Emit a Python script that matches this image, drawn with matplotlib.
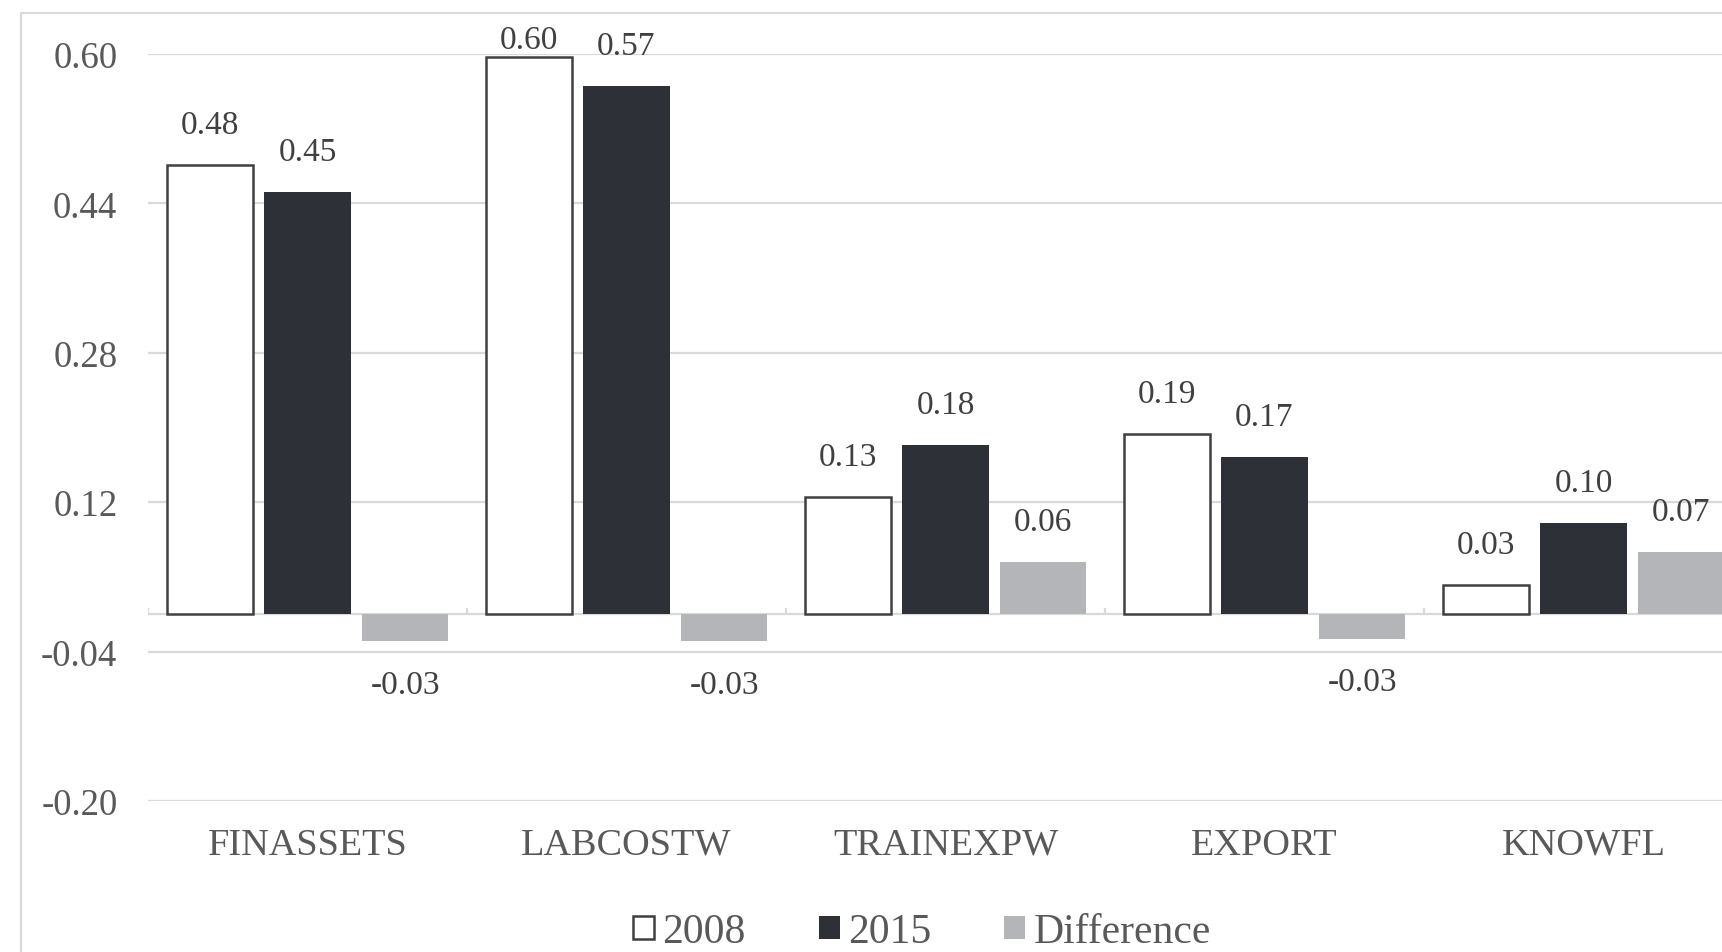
import matplotlib
matplotlib.use("Agg")
import matplotlib.pyplot as plt
from matplotlib.patches import Patch, Rectangle
import numpy as np

# Data
categories = ["FINASSETS", "LABCOSTW", "TRAINEXPW", "EXPORT", "KNOWFL"]
values_2008 = [0.481, 0.597, 0.126, 0.193, 0.031]
values_2015 = [0.452, 0.566, 0.181, 0.168, 0.098]
values_diff = [-0.029, -0.029, 0.056, -0.026, 0.067]
series_names = ["2008", "2015", "Difference"]
y_ticks = [0.60, 0.44, 0.28, 0.12, -0.04, -0.20]


def main() -> None:
    plt.rcParams["font.family"] = ["Liberation Serif", "DejaVu Serif"]

    fig = plt.figure(figsize=(17.22, 9.53), dpi=100)
    fig.patch.set_facecolor("white")

    # outer chart border (chart is cropped on right/bottom)
    fig.patches.append(Rectangle((21 / 1722, -0.2), 1.5, 1.2 - 14 / 953,
                                 transform=fig.transFigure, fill=False,
                                 edgecolor="#D9D9D9", linewidth=1.6))

    ax = fig.add_axes([148 / 1722, 1 - 802 / 953, 1595 / 1722, 747 / 953])

    x = np.arange(len(categories))
    width = 0.27
    step = 0.306
    c_white, c_dark, c_grey = "white", "#2E3037", "#B4B5B8"

    ax.axhline(0, color="#D9D9D9", linewidth=1.6, zorder=1)
    for yv in y_ticks:
        ax.axhline(yv, color="#D9D9D9", linewidth=1.6, zorder=0)
    ax.vlines(np.arange(len(categories) + 1) - 0.5, 0, 0.007,
              color="#D9D9D9", linewidth=1.6, zorder=1)

    b1 = ax.bar(x - step, values_2008, width, color=c_white,
                edgecolor="#404040", linewidth=1.8, zorder=3)
    b2 = ax.bar(x, values_2015, width, color=c_dark, zorder=3)
    b3 = ax.bar(x + step, values_diff, width, color=c_grey, zorder=3)

    # labels above/below bar ends; kept inside the chart area near the top
    for bars, vals in ((b1, values_2008), (b2, values_2015), (b3, values_diff)):
        for rect, v in zip(bars, vals):
            if v >= 0:
                off = 29 if v < 0.58 else 12
            else:
                off = -31
            ax.annotate(f"{v:.2f}", (rect.get_x() + rect.get_width() / 2, v),
                        xytext=(0, off), textcoords="offset points",
                        ha="center", va="center", fontsize=24,
                        color="#404040", annotation_clip=False)

    ax.set_xlim(-0.5, len(categories) - 0.5)
    ax.set_ylim(-0.20, 0.60)
    ax.set_yticks(y_ticks)
    ax.set_yticklabels([f"{t:.2f}" for t in y_ticks])
    ax.set_xticks(x)
    ax.set_xticklabels(categories)
    ax.tick_params(axis="y", length=0, pad=22, labelsize=26.5, labelcolor="#595959")
    ax.tick_params(axis="x", length=0, pad=19, labelsize=27.5, labelcolor="#595959")
    for s in ax.spines.values():
        s.set_visible(False)

    handles = [Patch(facecolor=c_white, edgecolor="#404040", linewidth=1.8),
               Patch(facecolor=c_dark), Patch(facecolor=c_grey)]
    fig.legend(handles, series_names, loc="center",
               bbox_to_anchor=(922 / 1722, 1 - 933 / 953), ncol=3,
               frameon=False, fontsize=30, handlelength=0.5, handleheight=0.5,
               handletextpad=0.2, columnspacing=1.75, labelcolor="#595959")

    fig.savefig("out.png", dpi=100)


if __name__ == "__main__":
    main()
